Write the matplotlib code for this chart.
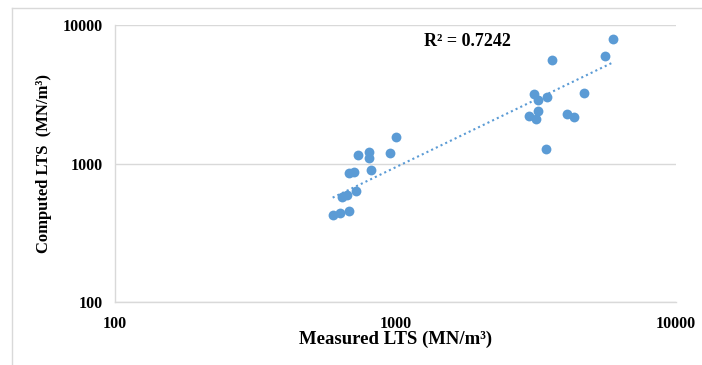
import numpy as np
import matplotlib.pyplot as plt
from matplotlib.lines import Line2D

# Donnees
measured=[5950,5580,3610,4700,3120,3210,3480,3230,2990,3180,4080,4330,3440,
          1000,956,807,803,737,818,713,684,721,670,646,683,634,597]
computed=[7890,6000,5560,3210,3160,2870,3010,2410,2190,2110,2270,2170,1274,
          1560,1200,1220,1100,1150,902,873,850,633,595,573,454,437,423]
ticks=[100,1000,10000]
# Courbe de tendance puissance : y = coef * x^expo
trend_coef=1.10
trend_expo=0.977
r2_text='R² = 0.7242'

blue='#5B9BD5'
grid_col='#D9D9D9'
plt.rcParams['font.family']=['Liberation Serif','DejaVu Serif']

fig=plt.figure(figsize=(7.02,3.65),dpi=100)
ax=fig.add_axes([115/702,1-302/365,(676-115)/702,(302-25)/365])

# Cadre exterieur (haut et gauche seulement)
fig.lines.append(Line2D([12/702,1],[1-8/365,1-8/365],transform=fig.transFigure,color=grid_col,linewidth=1))
fig.lines.append(Line2D([12/702,12/702],[0,1-8/365],transform=fig.transFigure,color=grid_col,linewidth=1))

ax.scatter(measured,computed,s=50,color=blue,zorder=3,linewidths=0)

xs=np.array([min(measured),max(measured)])
ax.plot(xs,trend_coef*xs**trend_expo,linestyle=(0,(1,1.5)),color=blue,linewidth=1.5,zorder=2)

ax.text(1811,7655,r2_text,fontsize=13,fontweight='bold',ha='center',va='center')

ax.set_xscale('log')
ax.set_yscale('log')
ax.set_xlim(100,10000)
ax.set_ylim(100,10000)
ax.set_xticks(ticks)
ax.set_yticks(ticks)
ax.set_xticklabels([str(t) for t in ticks])
ax.set_yticklabels([str(t) for t in ticks])
ax.minorticks_off()
ax.tick_params(length=0,labelsize=11.5)
ax.tick_params(axis='x',pad=10)
ax.tick_params(axis='y',pad=9)
for lab in ax.get_xticklabels()+ax.get_yticklabels():
    lab.set_fontweight('bold')

ax.grid(True,axis='y',color=grid_col,linewidth=1)
ax.set_axisbelow(True)
for s in ['top','right']:
    ax.spines[s].set_visible(False)
for s in ['left','bottom']:
    ax.spines[s].set_color(grid_col)
    ax.spines[s].set_linewidth(1)

ax.set_xlabel('Measured LTS (MN/m³)',fontsize=13.5,fontweight='bold')
ax.set_ylabel('Computed LTS  (MN/m³)',fontsize=12,fontweight='bold')
ax.xaxis.set_label_coords(0.5,-0.105)
ax.yaxis.set_label_coords(-0.112,0.5)

fig.savefig('out.png',dpi=100)
